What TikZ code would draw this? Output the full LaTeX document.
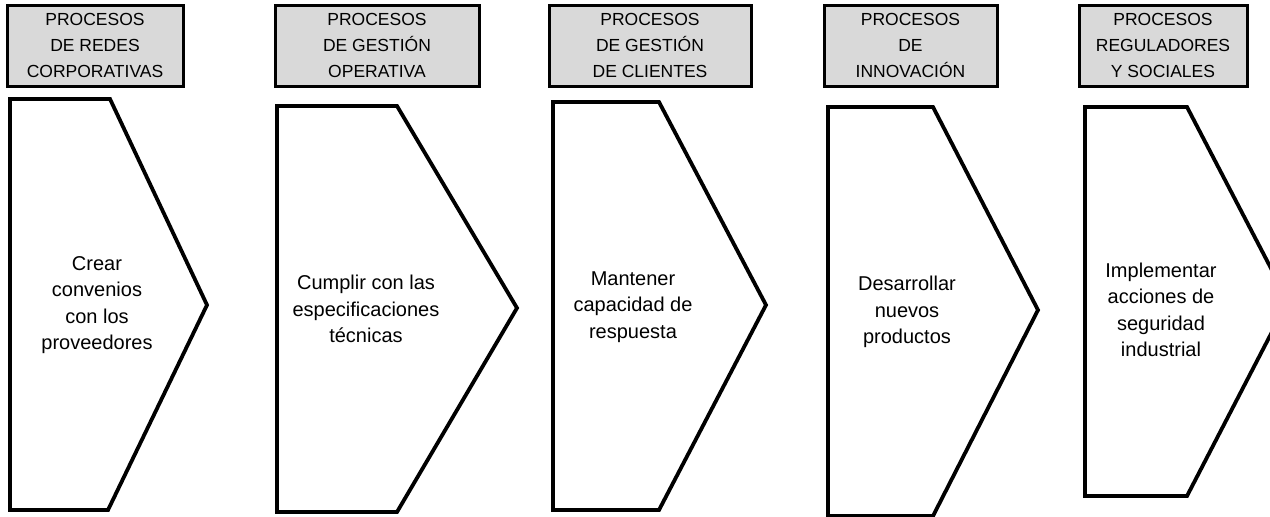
\documentclass[tikz,border=0pt]{standalone}
\usepackage{fontspec}
\setmainfont{Liberation Sans}
\begin{document}
\begin{tikzpicture}[x=1pt,y=-1pt,
  hdr/.style={draw=black, line width=3pt, fill=hdrgray, align=center, inner sep=0pt,
    font=\fontsize{17.5}{26}\selectfont},
  chev/.style={draw=black, line width=3.8pt, line join=miter, fill=white},
  body/.style={align=center, inner sep=0pt, font=\fontsize{20}{26.5}\selectfont}]
\definecolor{hdrgray}{RGB}{217,217,217}
\useasboundingbox (0,0) rectangle (1270,517);
\clip (0,0) rectangle (1270,517);
% headers
\node[hdr, minimum width=176pt, minimum height=81pt] (h1) at (95,45.5) {PROCESOS\\DE REDES\\CORPORATIVAS};
\node[hdr, minimum width=204pt, minimum height=81pt] (h2) at (377,45.5) {PROCESOS\\DE GESTIÓN\\OPERATIVA};
\node[hdr, minimum width=202pt, minimum height=81pt] (h3) at (650,45.5) {PROCESOS\\DE GESTIÓN\\DE CLIENTES};
\node[hdr, minimum width=173pt, minimum height=81pt] (h4) at (910.5,45.5) {PROCESOS\\DE\\INNOVACIÓN};
\node[hdr, minimum width=168pt, minimum height=81pt] (h5) at (1163,45.5) {PROCESOS\\REGULADORES\\Y SOCIALES};
% chevrons
\draw[chev] (10,99) -- (110,99) -- (207,305) -- (108,510) -- (10,510) -- cycle;
\draw[chev] (277,106) -- (397,106) -- (517,308) -- (397,512) -- (277,512) -- cycle;
\draw[chev] (553,102) -- (659,102) -- (766,305) -- (659,510) -- (553,510) -- cycle;
\draw[chev] (828,107) -- (933,107) -- (1038,310) -- (933,516) -- (828,516) -- cycle;
\draw[chev] (1085,107) -- (1187,107) -- (1288,301) -- (1187,496) -- (1085,496) -- cycle;
% texts
\node[body] (t1) at (97,305) {Crear\\convenios\\con los\\proveedores};
\node[body] (t2) at (366,309) {Cumplir con las\\especificaciones\\técnicas};
\node[body] (t3) at (633,307) {Mantener\\capacidad de\\respuesta};
\node[body] (t4) at (907,312) {Desarrollar\\nuevos\\productos};
\node[body] (t5) at (1161,310) {Implementar\\acciones de\\seguridad\\industrial};
\end{tikzpicture}
\end{document}
